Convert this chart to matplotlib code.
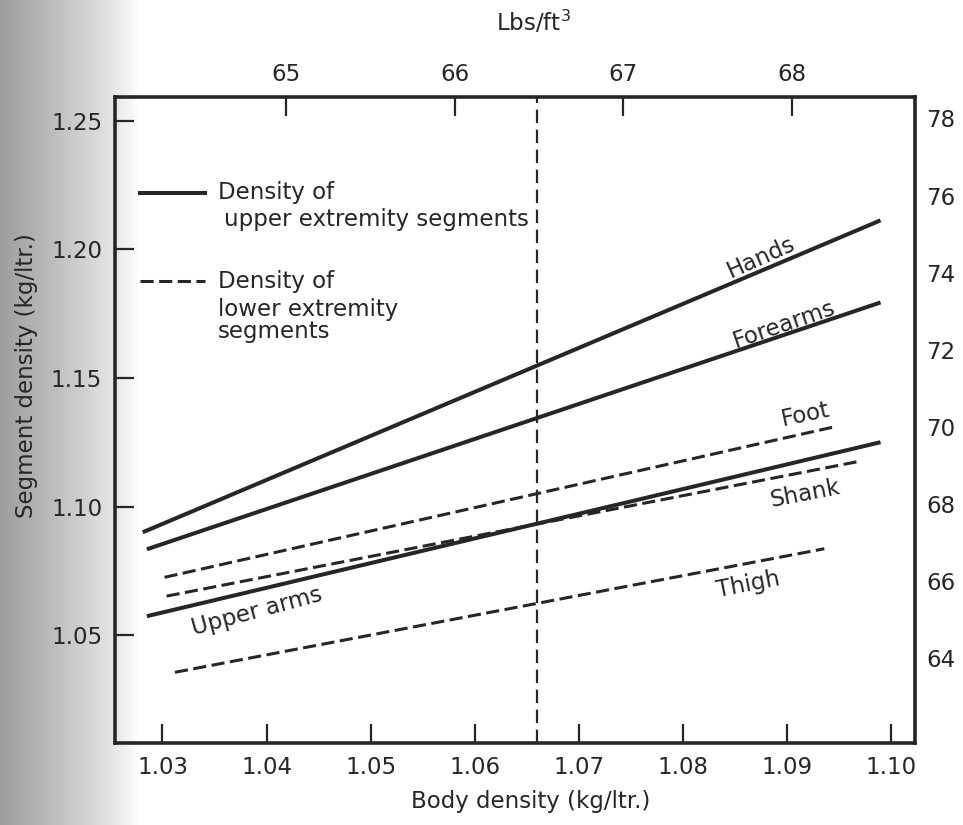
import matplotlib.pyplot as plt
import numpy as np

plt.rcParams['font.family'] = ['DejaVu Sans']

# body density (kg/ltr) at start and end of each line, segment density at the same points
seg_names = ['Hands', 'Forearms', 'Upper arms', 'Foot', 'Shank', 'Thigh']
seg_x0 = [1.0281, 1.0285, 1.0285, 1.0302, 1.0304, 1.0312]
seg_x1 = [1.0990, 1.0990, 1.0990, 1.0947, 1.0970, 1.0936]
seg_y0 = [1.0900, 1.0834, 1.0574, 1.0725, 1.0652, 1.0356]
seg_y1 = [1.2112, 1.1793, 1.1250, 1.1311, 1.1176, 1.0836]
seg_upper = [True, True, True, False, False, False]

body_ticks = [1.03, 1.04, 1.05, 1.06, 1.07, 1.08, 1.09, 1.10]
seg_ticks = [1.05, 1.10, 1.15, 1.20, 1.25]
lbs_top_ticks = [65, 66, 67, 68]
lbs_right_ticks = [64, 66, 68, 70, 72, 74, 76, 78]
mean_body_density = 1.066

# the printed Lbs/ft3 scales, as they sit on the scanned figure
def top_fwd(v):
    return 65 + (v - 1.0419) * 61.73

def top_inv(l):
    return 1.0419 + (l - 65) / 61.73

def right_fwd(v):
    return 71 + (v - 1.1460) * 66.8

def right_inv(l):
    return 1.1460 + (l - 71) / 66.8

ink = '#262626'
fs = 16.5

fig = plt.figure(figsize=(9.63, 8.25), dpi=100)

# grey scan shading on the left edge
bg = fig.add_axes([0, 0, 1, 1], zorder=-5)
grad = np.linspace(0, 1, 300)
shade = np.clip(1 - grad * 7.0, 0, 1)[None, :] ** 0.8 * 0.38
bg.imshow(1 - shade, cmap='gray', vmin=0, vmax=1, aspect='auto', extent=[0, 1, 0, 1])
bg.axis('off')

ax = fig.add_axes([0.119, 0.099, 0.831, 0.783])
ax.patch.set_alpha(0)

for x0, x1, y0, y1, up in zip(seg_x0, seg_x1, seg_y0, seg_y1, seg_upper):
    if up:
        ax.plot([x0, x1], [y0, y1], color=ink, lw=2.9, solid_capstyle='butt')
    else:
        ax.plot([x0, x1], [y0, y1], color=ink, lw=2.2, dashes=(4.3, 1.8))

ax.axvline(mean_body_density, color=ink, lw=1.6, dashes=(6, 3))

ax.set_xlim(1.0254, 1.1023)
ax.set_ylim(1.008, 1.259)
ax.set_xticks(body_ticks)
ax.set_xticklabels(['%.2f' % t for t in body_ticks])
ax.set_yticks(seg_ticks)
ax.set_yticklabels(['%.2f' % t for t in seg_ticks])
ax.tick_params(direction='in', length=14, width=1.6, labelsize=fs, colors=ink, pad=9)
for s in ax.spines.values():
    s.set_linewidth(2.6)
    s.set_color(ink)

ax.set_xlabel('Body density (kg/ltr.)', fontsize=fs, color=ink)
ax.xaxis.set_label_coords(0.52, -0.072)
ax.set_ylabel('Segment density (kg/ltr.)', fontsize=fs, color=ink)
ax.yaxis.set_label_coords(-0.096, 0.57)

top = ax.secondary_xaxis('top', functions=(top_fwd, top_inv))
top.set_xticks(lbs_top_ticks)
top.tick_params(direction='in', length=14, width=1.6, labelsize=fs, colors=ink, pad=8)
fig.text(533 / 963, 1 - 22 / 825, 'Lbs/ft$^3$', fontsize=fs, color=ink, ha='center', va='center')

right = ax.secondary_yaxis('right', functions=(right_fwd, right_inv))
right.set_yticks(lbs_right_ticks)
right.tick_params(direction='in', length=0, width=1.6, labelsize=fs, colors=ink, pad=8)

# line labels
ax.text(1.0875, 1.1968, 'Hands', rotation=24, fontsize=fs, color=ink, ha='center', va='center')
ax.text(1.0897, 1.1708, 'Forearms', rotation=19, fontsize=fs, color=ink, ha='center', va='center')
ax.text(1.0918, 1.1358, 'Foot', rotation=12, fontsize=fs, color=ink, ha='center', va='center')
ax.text(1.0918, 1.1048, 'Shank', rotation=11, fontsize=fs, color=ink, ha='center', va='center')
ax.text(1.0863, 1.0698, 'Thigh', rotation=11, fontsize=fs, color=ink, ha='center', va='center')
ax.text(1.0391, 1.0593, 'Upper arms', rotation=15, fontsize=fs, color=ink, ha='center', va='center')

# legend drawn by hand
ax.plot([1.0278, 1.0341], [1.2220, 1.2220], color=ink, lw=2.9)
ax.text(1.0353, 1.2220, 'Density of', fontsize=fs, color=ink, va='center', ha='left')
ax.text(1.0359, 1.2116, 'upper extremity segments', fontsize=fs, color=ink, va='center', ha='left')
ax.plot([1.0278, 1.0341], [1.1875, 1.1875], color=ink, lw=2.2, dashes=(4.3, 1.8))
ax.text(1.0353, 1.1875, 'Density of', fontsize=fs, color=ink, va='center', ha='left')
ax.text(1.0353, 1.1767, 'lower extremity', fontsize=fs, color=ink, va='center', ha='left')
ax.text(1.0353, 1.1681, 'segments', fontsize=fs, color=ink, va='center', ha='left')

fig.savefig('out.png', dpi=100)
